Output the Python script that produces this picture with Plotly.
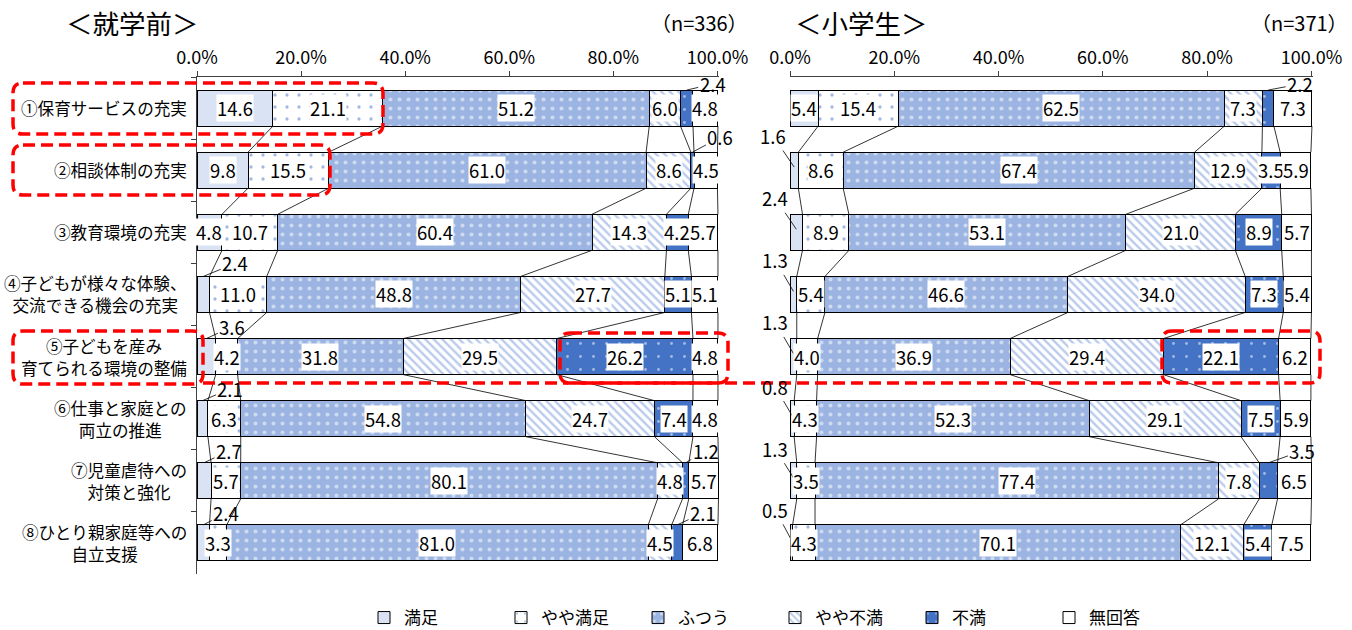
import plotly.graph_objects as go

W, H = 1352, 630

categories = [
    "①保育サービスの充実",
    "②相談体制の充実",
    "③教育環境の充実",
    "④子どもが様々な体験、<br>交流できる機会の充実",
    "⑤子どもを産み<br>育てられる環境の整備",
    "⑥仕事と家庭との<br>両立の推進",
    "⑦児童虐待への<br>対策と強化",
    "⑧ひとり親家庭等への<br>自立支援",
]
series_names = ["満足", "やや満足", "ふつう", "やや不満", "不満", "無回答"]

# 就学前 (n=336)
pre_satisfied = [14.6, 9.8, 4.8, 2.4, 3.6, 2.1, 2.7, 2.4]
pre_some_satisfied = [21.1, 15.5, 10.7, 11.0, 4.2, 6.3, 5.7, 3.3]
pre_neutral = [51.2, 61.0, 60.4, 48.8, 31.8, 54.8, 80.1, 81.0]
pre_some_dissatisfied = [6.0, 8.6, 14.3, 27.7, 29.5, 24.7, 4.8, 4.5]
pre_dissatisfied = [2.4, 0.6, 4.2, 5.1, 26.2, 7.4, 1.2, 2.1]
pre_no_answer = [4.8, 4.5, 5.7, 5.1, 4.8, 4.8, 5.7, 6.8]

# 小学生 (n=371)
elem_satisfied = [5.4, 1.6, 2.4, 1.3, 1.3, 0.8, 1.3, 0.5]
elem_some_satisfied = [15.4, 8.6, 8.9, 5.4, 4.0, 4.3, 3.5, 4.3]
elem_neutral = [62.5, 67.4, 53.1, 46.6, 36.9, 52.3, 77.4, 70.1]
elem_some_dissatisfied = [7.3, 12.9, 21.0, 34.0, 29.4, 29.1, 7.8, 12.1]
elem_dissatisfied = [2.2, 3.5, 8.9, 7.3, 22.1, 7.5, 3.5, 5.4]
elem_no_answer = [7.3, 5.9, 5.7, 5.4, 6.2, 5.9, 6.5, 7.5]

x_ticks = [0, 20, 40, 60, 80, 100]
x_tick_labels = ["0.0%", "20.0%", "40.0%", "60.0%", "80.0%", "100.0%"]

pre_series = [pre_satisfied, pre_some_satisfied, pre_neutral,
              pre_some_dissatisfied, pre_dissatisfied, pre_no_answer]
elem_series = [elem_satisfied, elem_some_satisfied, elem_neutral,
               elem_some_dissatisfied, elem_dissatisfied, elem_no_answer]

FONT = "Noto Sans CJK JP"
BLUE = "#4472c4"
BAR_W = 0.58
HALF = BAR_W / 2
LABEL_SIZE = 18.5

markers = [
    dict(color="#dae3f3"),
    dict(color="white", pattern=dict(shape=".", fgcolor=BLUE, bgcolor="white",
                                     size=12, solidity=0.06)),
    dict(color="#9cb4e1", pattern=dict(shape=".", fgcolor="white", bgcolor="#9cb4e1",
                                       size=9, solidity=0.16)),
    dict(color="white", pattern=dict(shape="\\", fgcolor="#7396d8", bgcolor="white",
                                     size=6, solidity=0.4)),
    dict(color=BLUE, pattern=dict(shape=".", fgcolor="white", bgcolor=BLUE,
                                  size=13, solidity=0.04)),
    dict(color="white"),
]

# labels drawn outside the bar with a leader line: (row, segment) -> (anchor, dx, dy)
pre_callouts = {
    (0, 4): ("top", 26, -6), (1, 4): ("top", 28, -15),
    (3, 0): ("top", 32, -13), (4, 0): ("top", 26, -12),
    (5, 0): ("top", 28, -12), (6, 0): ("top", 25, -12),
    (6, 4): ("top", 20, -12), (7, 0): ("top", 23, -12),
    (7, 4): ("top", 26, -12),
}
elem_callouts = {
    (0, 4): ("top", 32, -6), (1, 0): ("mid", -21, -31),
    (2, 0): ("mid", -21, -31), (3, 0): ("mid", -18, -31),
    (4, 0): ("mid", -18, -31), (5, 0): ("mid", -17, -29),
    (6, 0): ("mid", -18, -29), (6, 4): ("top", 34, -12),
    (7, 0): ("mid", -16, -30),
}


def px(x):
    return x / W


def py(y):
    return 1 - y / H


fig = go.Figure()
shapes = []
annotations = []

panels = [
    (pre_series, "x", "y", pre_callouts, True),
    (elem_series, "x2", "y2", elem_callouts, False),
]

for data, xa, ya, callouts, show_legend in panels:
    for k, (name, vals) in enumerate(zip(series_names, data)):
        fig.add_trace(go.Bar(
            x=vals, y=categories, orientation="h", name=name,
            marker=dict(**markers[k], line=dict(color="black", width=1)),
            width=BAR_W, xaxis=xa, yaxis=ya, showlegend=show_legend,
            legendgroup=name, hoverinfo="skip",
        ))

    n_rows = len(categories)
    cums = []
    for i in range(n_rows):
        c = [0.0]
        for s in data:
            c.append(c[-1] + s[i])
        cums.append(c)

    # series lines joining segment boundaries of neighbouring bars
    for i in range(n_rows - 1):
        for k in range(1, len(data) + 1):
            shapes.append(dict(
                type="line", xref=xa, yref=ya, layer="below",
                x0=cums[i][k], y0=i + HALF, x1=cums[i + 1][k], y1=i + 1 - HALF,
                line=dict(color="black", width=0.8),
            ))

    # value labels
    for i in range(n_rows):
        for k, s in enumerate(data):
            v = s[i]
            mid = (cums[i][k] + cums[i][k + 1]) / 2
            txt = f"{v:.1f}"
            if (i, k) in callouts:
                anchor, dx, dy = callouts[(i, k)]
                yy = i - HALF if anchor == "top" else i - 0.05
                annotations.append(dict(
                    x=mid, y=yy, xref=xa, yref=ya, text=txt,
                    showarrow=True, arrowhead=0, arrowwidth=0.8, arrowcolor="black",
                    ax=dx, ay=dy, standoff=0,
                    font=dict(family=FONT, size=LABEL_SIZE, color="black"),
                ))
            else:
                annotations.append(dict(
                    x=mid, y=i, xref=xa, yref=ya, text=txt, showarrow=False,
                    bgcolor="white", borderpad=0,
                    font=dict(family=FONT, size=LABEL_SIZE, color="black"),
                ))

# category labels
for i, cat in enumerate(categories):
    annotations.append(dict(
        x=px(189), xref="paper", xanchor="right", y=i, yref="y",
        text=cat, showarrow=False, align="center",
        font=dict(family=FONT, size=16.6, color="black"),
    ))

# panel titles
for text, x, anchor, size in [
    ("＜就学前＞", 64, "left", 26.5), ("（n=336）", 750, "right", 20),
    ("＜小学生＞", 793, "left", 26.5), ("（n=371）", 1350, "right", 20),
]:
    annotations.append(dict(
        x=px(x), y=py(23), xref="paper", yref="paper", xanchor=anchor, yanchor="middle",
        text=text, showarrow=False, font=dict(family=FONT, size=size, color="black"),
    ))


def rounded_box(x0, y0, x1, y1, r=10):
    def p(x, y):
        return f"{px(x):.5f},{py(y):.5f}"
    return (f"M{p(x0 + r, y0)} L{p(x1 - r, y0)} Q{p(x1, y0)} {p(x1, y0 + r)} "
            f"L{p(x1, y1 - r)} Q{p(x1, y1)} {p(x1 - r, y1)} "
            f"L{p(x0 + r, y1)} Q{p(x0, y1)} {p(x0, y1 - r)} "
            f"L{p(x0, y0 + r)} Q{p(x0, y0)} {p(x0 + r, y0)} Z")


red = dict(color="#ff0000", width=3.5, dash="12px,6px")
for box in [(13, 83, 383, 134), (13, 145, 330, 195), (13, 331, 203, 384),
            (560, 333, 728, 383), (1162, 331, 1320, 383)]:
    shapes.append(dict(type="path", xref="paper", yref="paper",
                       path=rounded_box(*box), line=red, layer="above"))
shapes.append(dict(type="line", xref="paper", yref="paper", layer="above",
                   x0=px(203), y0=py(383), x1=px(1162), y1=py(383), line=red))

axis_font = dict(family=FONT, size=18, color="black")
xcommon = dict(range=[0, 100.3], side="top", tickvals=x_ticks, ticktext=x_tick_labels,
               showline=True, linecolor="#404040", linewidth=1, ticks="outside",
               ticklen=5, tickcolor="#404040", showgrid=False, zeroline=False,
               tickfont=axis_font, fixedrange=True)
ycommon = dict(type="category", categoryorder="array", categoryarray=categories,
               range=[7.5, -0.5], showgrid=False, zeroline=False,
               showticklabels=False, domain=[py(574), py(77)], fixedrange=True)

fig.update_layout(
    width=W, height=H,
    margin=dict(l=0, r=0, t=0, b=0, autoexpand=False),
    paper_bgcolor="white", plot_bgcolor="white",
    barmode="stack",
    font=dict(family=FONT, color="black"),
    xaxis=dict(domain=[px(197), px(719)], anchor="y", **xcommon),
    xaxis2=dict(domain=[px(790), px(1313)], anchor="y2", **xcommon),
    yaxis=dict(anchor="x", showline=True, linecolor="#404040", linewidth=1,
               ticks="outside", tickson="boundaries", ticklen=5,
               tickcolor="#404040", **ycommon),
    yaxis2=dict(anchor="x2", showline=False, ticks="", **ycommon),
    legend=dict(orientation="h", x=px(364), y=py(600), xanchor="left", yanchor="top",
                font=dict(family=FONT, size=17, color="black"),
                entrywidth=92, traceorder="normal", bgcolor="rgba(0,0,0,0)"),
    shapes=shapes,
    annotations=annotations,
)

fig.write_html("out.html")
